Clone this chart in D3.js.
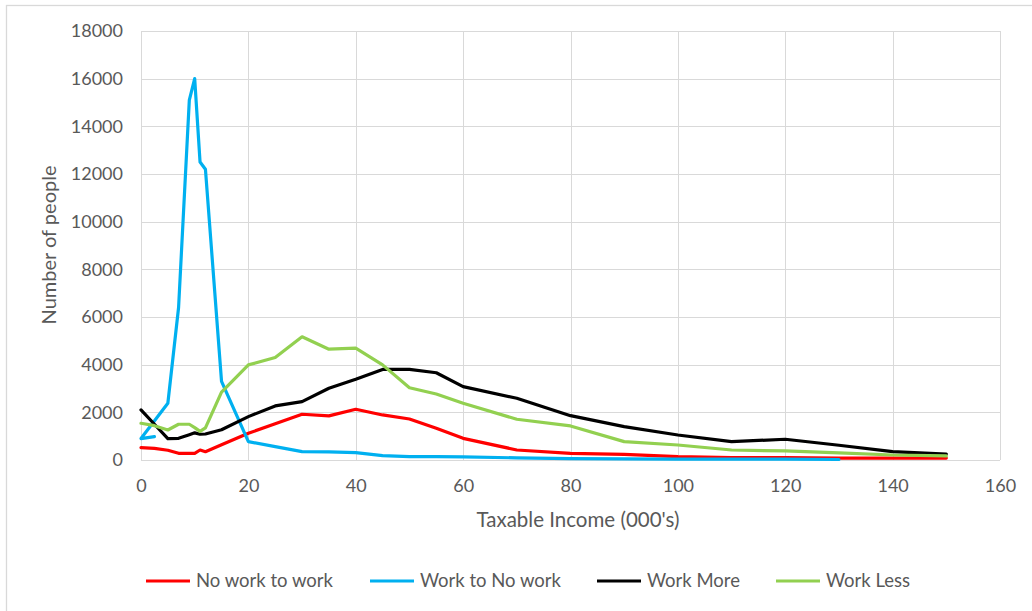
<!DOCTYPE html>
<html>
<head>
<meta charset="utf-8">
<script src="https://cdn.jsdelivr.net/npm/d3@7"></script>
<style>
  html, body { margin: 0; padding: 0; background: #fff; }
  svg { display: block; font-family: Lato, "Open Sans", sans-serif; }
</style>
</head>
<body>
<svg id="chart" width="1032" height="611"></svg>
<script>
// Taxable income bands (thousands) shared by most series
const incomeBands = [0, 2.5, 5, 7, 9, 10, 11, 12, 15, 20, 25, 30, 35, 40, 45, 50, 55, 60, 70, 80, 90, 100, 110, 120, 130, 140, 150];

const noWorkToWork = [520, 490, 410, 280, 280, 280, 420, 350, 640, 1120, 1520, 1920, 1850, 2130, 1890, 1720, 1330, 910, 420, 280, 240, 140, 100, 100, 80, 80, 80];
const workMore     = [2100, 1500, 900, 910, 1060, 1140, 1080, 1090, 1270, 1820, 2270, 2450, 3010, 3390, 3800, 3800, 3660, 3080, 2590, 1860, 1400, 1050, 770, 870, 620, 350, 250];
const workLess     = [1540, 1440, 1260, 1500, 1500, 1360, 1200, 1350, 2850, 3990, 4300, 5170, 4650, 4690, 3990, 3030, 2770, 2380, 1710, 1430, 770, 630, 420, 380, 300, 210, 170];

// "Work to No work" is recorded in its own order, starting at the 2.5 band
const workToNoWorkIncome = [2.5, 0, 5, 7, 9, 10, 11, 12, 15, 20, 25, 30, 35, 40, 45, 50, 55, 60, 70, 80, 90, 100, 110, 120, 130];
const workToNoWork       = [980, 900, 2380, 6400, 15100, 16000, 12500, 12200, 3300, 770, 560, 350, 340, 310, 180, 140, 140, 130, 90, 60, 50, 40, 40, 40, 20];

const xTicks = [0, 20, 40, 60, 80, 100, 120, 140, 160];
const yTicks = [0, 2000, 4000, 6000, 8000, 10000, 12000, 14000, 16000, 18000];

const seriesNames  = ["No work to work", "Work to No work", "Work More", "Work Less"];
const seriesColors = ["#FF0000", "#00B0F0", "#000000", "#92D050"];

const series = [
  { name: seriesNames[0], color: seriesColors[0], xs: incomeBands, ys: noWorkToWork },
  { name: seriesNames[1], color: seriesColors[1], xs: workToNoWorkIncome, ys: workToNoWork },
  { name: seriesNames[2], color: seriesColors[2], xs: incomeBands, ys: workMore },
  { name: seriesNames[3], color: seriesColors[3], xs: incomeBands, ys: workLess }
];

const svg = d3.select("#chart");
const plot = { left: 141, right: 1000, top: 31, bottom: 460 };

// Outer chart frame
svg.append("rect")
  .attr("x", 6.5).attr("y", 5.5)
  .attr("width", 1060).attr("height", 640)
  .attr("fill", "#fff")
  .attr("stroke", "#D9D9D9").attr("stroke-width", 1.3);

const x = d3.scaleLinear().domain([0, 160]).range([plot.left, plot.right]);
const y = d3.scaleLinear().domain([0, 18000]).range([plot.bottom, plot.top]);

// Gridlines
const grid = svg.append("g").attr("stroke", "#D9D9D9").attr("stroke-width", 1);
grid.selectAll("line.h").data(yTicks).join("line")
  .attr("x1", plot.left).attr("x2", plot.right)
  .attr("y1", d => Math.round(y(d)) + 0.5).attr("y2", d => Math.round(y(d)) + 0.5);
grid.selectAll("line.v").data(xTicks).join("line")
  .attr("y1", plot.top).attr("y2", plot.bottom)
  .attr("x1", d => Math.round(x(d)) + 0.5).attr("x2", d => Math.round(x(d)) + 0.5);

// Axes (labels only; lines come from the grid)
const xAxis = svg.append("g")
  .attr("transform", `translate(0,${plot.bottom})`)
  .call(d3.axisBottom(x).tickValues(xTicks).tickSize(0).tickPadding(19));
const yAxis = svg.append("g")
  .attr("transform", `translate(${plot.left},0)`)
  .call(d3.axisLeft(y).tickValues(yTicks).tickSize(0).tickPadding(18).tickFormat(d3.format("d")));
[xAxis, yAxis].forEach(a => {
  a.select(".domain").remove();
  a.selectAll("text")
    .attr("fill", "#595959")
    .style("font-family", "Lato, 'Open Sans', sans-serif")
    .style("font-size", "18px");
});

// Axis titles
svg.append("text")
  .attr("x", 578).attr("y", 527)
  .attr("text-anchor", "middle")
  .attr("fill", "#595959").style("font-size", "20.5px")
  .text("Taxable Income (000's)");
svg.append("text")
  .attr("transform", "translate(49,245) rotate(-90)")
  .attr("text-anchor", "middle").attr("dy", "0.35em")
  .attr("fill", "#595959").style("font-size", "20px")
  .text("Number of people");

// Series lines
const line = d3.line().x(d => x(d[0])).y(d => y(d[1]));
svg.append("g").selectAll("path").data(series).join("path")
  .attr("d", s => line(s.xs.map((v, i) => [v, s.ys[i]])))
  .attr("fill", "none")
  .attr("stroke", s => s.color)
  .attr("stroke-width", 3.2)
  .attr("stroke-linejoin", "round")
  .attr("stroke-linecap", "round");

// Legend
const legendX = [146, 370, 597, 776];
const legend = svg.append("g").selectAll("g").data(series).join("g")
  .attr("transform", (s, i) => `translate(${legendX[i]},581)`);
legend.append("line")
  .attr("x1", 0).attr("x2", 44)
  .attr("stroke", s => s.color).attr("stroke-width", 3.2);
legend.append("text")
  .attr("x", 50).attr("dy", "0.35em")
  .attr("fill", "#595959").style("font-size", "18.5px")
  .text(s => s.name);
</script>
</body>
</html>
